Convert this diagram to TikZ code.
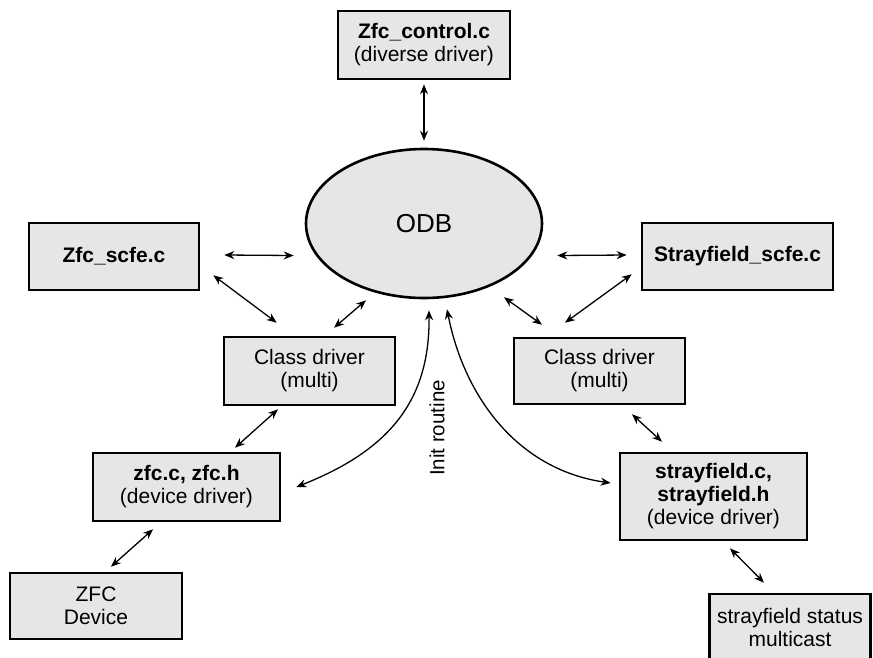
\documentclass[tikz,border=0pt]{standalone}
\usepackage{fontspec}
\setmainfont{Liberation Sans}
\usetikzlibrary{arrows.meta,shapes.geometric}
\definecolor{boxgray}{HTML}{E6E6E6}
\tikzset{
	modbox/.style={draw=black, fill=boxgray, line width=2.6pt, inner sep=0pt, align=center,
		font=\fontsize{21}{23}\selectfont},
	link/.style={line width=1.3pt, {Stealth[length=10pt,width=8pt]}-{Stealth[length=10pt,width=8pt]}},
}

\begin{document}
\begin{tikzpicture}[x=1pt, y=-1pt]
		%%%%% START %%%%%
		\useasboundingbox (0, 0) rectangle (873, 657);
		\clip (0, 0) rectangle (873, 657);
		
		% database in the middle
		\node[ellipse, draw=black, fill=boxgray, line width=2.6pt, minimum width=236pt, minimum height=149pt,
			font=\fontsize{26}{30}\selectfont] (odb) at (424, 223.5) {ODB};
		
		\node[modbox, minimum width=172pt, minimum height=68pt] (ctrl) at (424, 45) {\textbf{Zfc\_control.c}\\(diverse driver)};
		\node[modbox, minimum width=170pt, minimum height=67pt] (zscfe) at (114, 256.5) {\textbf{Zfc\_scfe.c}};
		\node[modbox, minimum width=191pt, minimum height=67pt] (sscfe) at (737.5, 256.5) {\textbf{Strayfield\_scfe.c}};
		
		\node[modbox, minimum width=171pt, minimum height=68pt] (cdl) at (309.5, 371) {Class driver\\(multi)};
		\node[modbox, minimum width=171pt, minimum height=66pt] (cdr) at (599.5, 371) {Class driver\\(multi)};
		
		\node[modbox, minimum width=187pt, minimum height=68pt] (zfc) at (186.5, 487) {\textbf{zfc.c, zfc.h}\\(device driver)};
		\node[modbox, minimum width=187pt, minimum height=87pt] (sfc) at (713.5, 496.5) {\textbf{strayfield.c,}\\\textbf{strayfield.h}\\(device driver)};
		
		\node[modbox, minimum width=172pt, minimum height=66pt] (zdev) at (96, 606) {ZFC\\Device};
		\node[modbox, minimum width=161pt, minimum height=67pt] (stat) at (790, 627.5) {strayfield status\\multicast};
		
		% links
		\draw[link] ([shift={(0,4)}]ctrl.south) -- ([shift={(0,-7)}]odb.north);
		\draw[link] ([shift={(24,-1.5)}]zscfe.east) -- ([shift={(-11,32)}]odb.west);
		\draw[link] ([shift={(14,32)}]odb.east) -- ([shift={(-14,-1.5)}]sscfe.west);
		\draw[link] ([shift={(13,-16)}]zscfe.south east) -- ([shift={(54,-13)}]cdl.north west);
		\draw[link] ([shift={(-58,1)}]odb.south) -- ([shift={(24.5,-8)}]cdl.north);
		\draw[link] ([shift={(80,-2)}]odb.south) -- ([shift={(-57.5,-12)}]cdr.north);
		\draw[link] ([shift={(-9,-17)}]sscfe.south west) -- ([shift={(-34.5,-14)}]cdr.north);
		\draw[link] ([shift={(-31.5,3)}]cdl.south) -- ([shift={(48.5,-4)}]zfc.north);
		\draw[link] ([shift={(-33.5,7)}]zfc.south) -- ([shift={(15,-5)}]zdev.north);
		\draw[link] ([shift={(32.5,9)}]cdr.south) -- ([shift={(-51.5,-10)}]sfc.north);
		\draw[link] ([shift={(16.5,7)}]sfc.south) -- ([shift={(-26,-10)}]stat.north);
		
		% init routine
		\draw[link] ([shift={(5,11)}]odb.south) .. controls (430, 400) and (390, 450) .. ([shift={(15,0)}]zfc.east);
		\draw[link] ([shift={(23,10)}]odb.south) .. controls (465, 400) and (520, 470) .. ([shift={(-8,-13.5)}]sfc.west);
		\node[rotate=90, font=\fontsize{20.5}{23}\selectfont] (init) at (437, 428) {Init routine};
		
		%%%%% END %%%%%
	\end{tikzpicture}
\end{document}
